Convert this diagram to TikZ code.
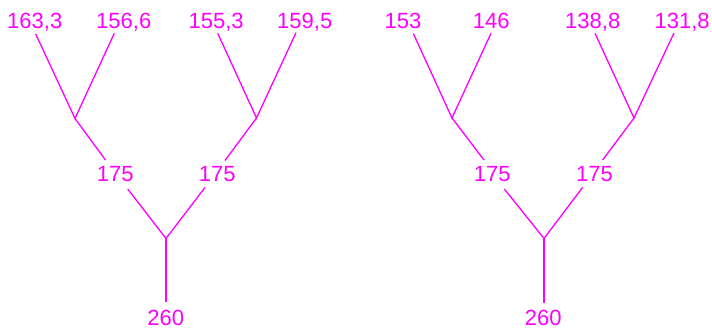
\documentclass[tikz,border=0pt]{standalone}
\usepackage{fontspec}
\setmainfont{Liberation Sans}
\definecolor{mag}{RGB}{255,0,255}
\begin{document}
\begin{tikzpicture}[x=1pt,y=-1pt,
  lbl/.style={text=mag,font=\fontsize{22}{26}\selectfont,inner sep=0pt},
  conn/.style={draw=mag,color=mag,line width=1.3pt}]
\useasboundingbox (0,0) rectangle (712,331);
% ---------- left tree ----------
\node[lbl,anchor=base west] (a1) at (7,28.3) {163,3};
\node[lbl,anchor=base west] (a2) at (96,28.3) {156,6};
\node[lbl,anchor=base west] (a3) at (188.4,28.3) {155,3};
\node[lbl,anchor=base west] (a4) at (277,28.3) {159,5};
\node[lbl,anchor=base west] (am1) at (96.7,181.7) {175};
\node[lbl,anchor=base west] (am2) at (198.7,181.7) {175};
\node[lbl,anchor=base] (ar) at (165.7,325) {260};
\coordinate (aj1) at (75,118.5);
\coordinate (aj2) at (256.5,118);
\coordinate (aj3) at (166,238.5);
\coordinate (at1) at (35.7,34);
\coordinate (at2) at (114.3,33.3);
\coordinate (at3) at (217.7,33.3);
\coordinate (at4) at (296,32.7);
\coordinate (au1) at (105.5,160);
\coordinate (au2) at (225,160.5);
\coordinate (al1) at (127.7,189);
\coordinate (al2) at (205,187.5);
\coordinate (ab) at (166,302);
\draw[conn] (at1) -- (aj1) -- (at2);
\draw[conn] (at3) -- (aj2) -- (at4);
\draw[conn] (aj1) -- (au1);
\draw[conn] (aj2) -- (au2);
\draw[conn] (al1) -- (aj3) -- (al2);
\draw[conn] (aj3) -- (ab);
% ---------- right tree ----------
\node[lbl,anchor=base west] (b1) at (384.4,28.3) {153};
\node[lbl,anchor=base west] (b2) at (472.7,28.3) {146};
\node[lbl,anchor=base west] (b3) at (565,28.3) {138,8};
\node[lbl,anchor=base west] (b4) at (654.4,28.3) {131,8};
\node[lbl,anchor=base west] (bm1) at (473.7,181.7) {175};
\node[lbl,anchor=base west] (bm2) at (576,181.7) {175};
\node[lbl,anchor=base] (br) at (543.3,325) {260};
\coordinate (bj1) at (452,118);
\coordinate (bj2) at (634,118);
\coordinate (bj3) at (544,238.5);
\coordinate (bt1) at (413.3,33.5);
\coordinate (bt2) at (491,33.3);
\coordinate (bt3) at (595,33.3);
\coordinate (bt4) at (674,33);
\coordinate (bu1) at (484,160);
\coordinate (bu2) at (602.7,160);
\coordinate (bl1) at (504.3,189);
\coordinate (bl2) at (582.7,187.3);
\coordinate (bb) at (544,302.5);
\draw[conn] (bt1) -- (bj1) -- (bt2);
\draw[conn] (bt3) -- (bj2) -- (bt4);
\draw[conn] (bj1) -- (bu1);
\draw[conn] (bj2) -- (bu2);
\draw[conn] (bl1) -- (bj3) -- (bl2);
\draw[conn] (bj3) -- (bb);
\end{tikzpicture}
\end{document}
